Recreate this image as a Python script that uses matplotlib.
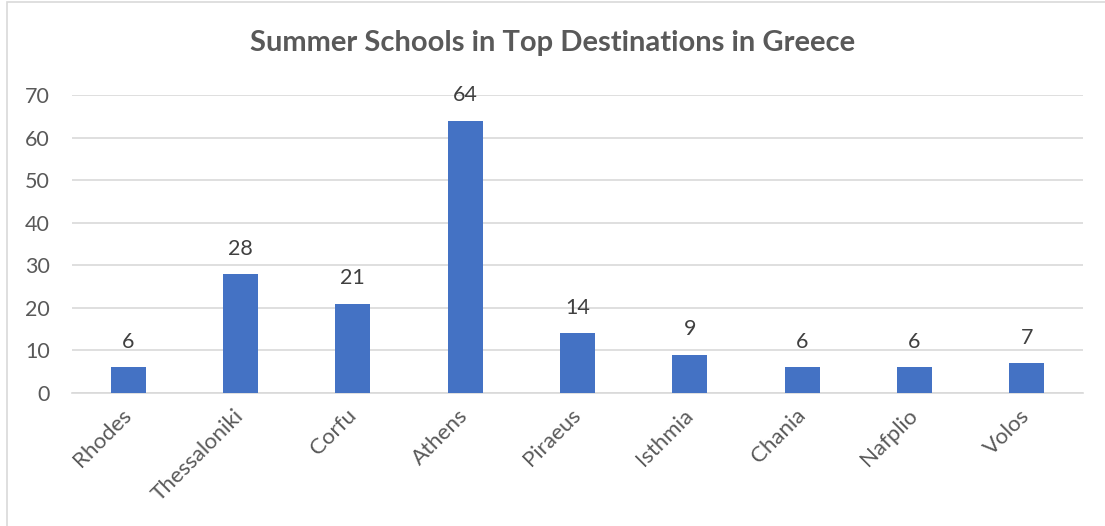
import matplotlib
matplotlib.use("Agg")
import matplotlib.pyplot as plt
from matplotlib.patches import Rectangle

cities = ["Rhodes", "Thessaloniki", "Corfu", "Athens", "Piraeus",
          "Isthmia", "Chania", "Nafplio", "Volos"]
schools = [6, 28, 21, 64, 14, 9, 6, 6, 7]
y_ticks = [0, 10, 20, 30, 40, 50, 60, 70]

plt.rcParams["font.family"] = ["Lato", "DejaVu Sans"]
text_color = "#595959"
grid_color = "#d9d9d9"
bar_color = "#4472c4"

fig = plt.figure(figsize=(11.05, 5.26), dpi=100)
ax = fig.add_axes([0.0652, 0.2529, 0.9148, 0.5665])

# outer chart border (only left and top edges fall inside the image)
fig.patches.append(Rectangle((7 / 1105, -0.1), 1.2, 1.1 - 2 / 526,
                             transform=fig.transFigure, fill=False,
                             edgecolor=grid_color, linewidth=1.2))

x = list(range(len(cities)))
bars = ax.bar(x, schools, width=0.31, color=bar_color, zorder=3)

for bar, val in zip(bars, schools):
    ax.annotate(str(val), (bar.get_x() + bar.get_width() / 2, val),
                xytext=(0, 11), textcoords="offset points",
                ha="center", va="bottom", fontsize=15.5, color="#404040")

ax.set_xlim(-0.5, len(cities) - 0.5)
ax.set_ylim(0, 70)
ax.set_yticks(y_ticks)
ax.yaxis.grid(True, color=grid_color, linewidth=1.2, zorder=0)
ax.tick_params(axis="y", length=0, pad=16, labelsize=15.5, labelcolor=text_color)
ax.tick_params(axis="x", length=0, pad=14, labelsize=16, labelcolor=text_color)
ax.set_xticks(x)
ax.set_xticklabels(cities, rotation=45, ha="right", va="center",
                   rotation_mode="anchor")

for side in ["top", "right", "left"]:
    ax.spines[side].set_visible(False)
ax.spines["bottom"].set_color(grid_color)
ax.spines["bottom"].set_linewidth(1.2)

fig.text(0.5, 0.918, "Summer Schools in Top Destinations in Greece",
         ha="center", va="center", fontsize=21, fontweight="bold",
         color=text_color)

fig.savefig("out.png", dpi=100)
